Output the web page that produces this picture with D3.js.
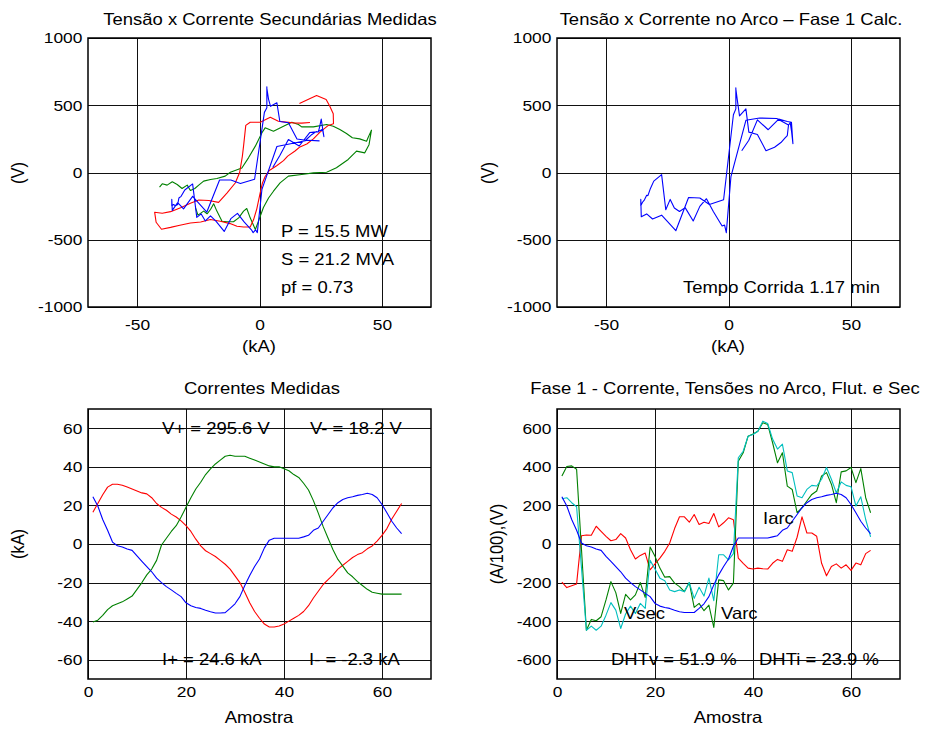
<!DOCTYPE html>
<html><head><meta charset="utf-8">
<script src="https://cdn.jsdelivr.net/npm/d3@7"></script>
<style>
body{margin:0;background:#fff}
svg{display:block}
text{font-family:"Liberation Sans",Arial,Helvetica,sans-serif;fill:#000}
</style>
</head><body>
<svg id="chart" width="926" height="731"></svg>
<script>
// ---------------- DATA ----------------
const amostra = [1,2,3,4,5,6,7,8,9,10,11,12,13,14,15,16,17,18,19,20,21,22,23,24,25,26,27,28,29,30,31,32,
  33,34,35,36,37,38,39,40,41,42,43,44,45,46,47,48,49,50,51,52,53,54,55,56,57,58,59,60,61,62,63,64];

// Correntes medidas (kA)
const iFase1 = [24.5,19.7,12.7,7.1,1.0,-0.9,-1.6,-2.6,-3.3,-6.2,-9,-11.7,-14.4,-17.7,-20,-22.1,-23.8,-25.6,-27.3,-30.5,
  -32,-32.9,-33.4,-34.3,-35.1,-35.8,-35.8,-35.6,-33.4,-31,-27.3,-21.5,-16.3,-11.7,-7.8,-2.0,2.0,3.0,3.0,3.0,
  3.0,3.0,3.0,3.7,4.5,7.1,8.3,11.8,15.3,18.8,21.4,23.1,24,24.5,25.2,25.7,26.3,25.7,24,20.5,16.2,11.8,8.3,5.4];
const iFase2 = [16.5,21,25.5,29.5,31,31,30.5,29.5,28.5,27.5,26.5,26,24,21,19,17.5,15.5,14,12,9.5,
  6.5,2.5,-1,-3.5,-5,-6.5,-8.5,-10.5,-13,-16.5,-20,-25,-30.5,-35,-38.5,-41.5,-43,-43,-42.5,-41.5,
  -40,-38.5,-37,-35,-32,-28,-24.5,-21,-18.5,-16,-13,-11,-9,-7,-5.5,-4.5,-2.5,-1,1.5,4.5,8,13,17,21];
const iFase3 = [-40.5,-39.5,-37,-34,-32,-31,-30,-28.5,-27,-23.5,-20,-16,-13,-8.5,-0.5,3,6.5,9.5,14,19,
  24,28.5,32,36,39,41.5,43.5,45.5,46,45.5,45.5,45.5,44.5,43.5,42.5,41.5,40.5,40,40,39,
  38,36,34.5,31.5,28,22.5,16,9,3,-3,-8,-11.5,-15,-17,-19.5,-21.5,-23.5,-25,-25.5,-26,-26,-26,-26,-26];

// Fase 1 (A/100 e V)
const iArc = [245,197,127,71,5,-9,-16,-26,-33,-64,-90,-117,-144,-177,-200,-221,-238,-256,-273,-308,
  -322,-329,-334,-343,-351,-355,-355,-355,-334,-310,-273,-212,-160,-117,-78,-12,31,31,31,31,
  31,31,31,37,43,71,83,118,153,188,214,231,240,245,252,257,263,257,240,205,162,118,83,54];
const vFlut = [-198,-226,-216,-207,43,47,45,92,66,40,17,23,54,31,-30,-78,-59,-47,-134,-103,
  -73,-38,5,80,141,141,113,153,101,113,106,158,89,110,136,126,-73,-100,-125,-130,
  -125,-128,-130,-100,-80,-90,-30,-38,35,141,57,57,40,-100,-165,-117,-103,-125,-108,-137,-99,-108,-50,-33];
const vArc = [353,402,405,388,-30,-447,-391,-398,-377,-290,-195,-252,-360,-261,-290,-264,-200,-277,-16,-64,
  -125,-172,-169,-203,-221,-247,-200,-329,-308,-346,-317,-433,-186,-190,-238,-203,429,473,559,570,
  585,629,620,525,421,473,300,283,162,188,223,257,275,353,370,310,214,374,379,397,318,391,240,162];
const vSec = [235,240,214,193,-125,-447,-426,-447,-426,-369,-304,-343,-438,-363,-322,-360,-308,-334,-85,-130,
  -177,-190,-238,-247,-238,-247,-200,-282,-224,-270,-177,-294,-56,-56,-82,-50,447,481,559,568,
  585,637,625,544,492,518,379,370,249,240,283,304,301,336,397,336,266,322,304,297,197,245,127,37];

// Tensao x corrente secundarias, fases 2 e 3 (kA, V)
const tlI2 = [16.3,20,23.3,27.2,28.7,30.1,30.2,28.1,24.7,22,19.3,16.5,14.5,11.5,9.8,7,4,2.3,1.2,0.3,-1.1,-2.4,-3.8,
  -6.5,-9.2,-12,-16,-20,-24,-28.2,-32.5,-36.3,-40,-42.2,-42.8,-39.7,-36.3,-32.2,-28.2,-24.8,-20.7,-16.7,-13.3,
  -9.9,-8.1,-7,-6.5,-5.6,-3.8,0.3,4.4,7.7,13.8,17.2,20.6];
const tlV2 = [513,545,572,543,493,437,362,350,300,250,212,190,160,122,88,50,15,-30,-78,-150,-270,-350,-405,
  -405,-400,-380,-362,-350,-368,-375,-392,-408,-422,-370,-295,-303,-291,-262,-228,-205,-208,-222,-153,
  -78,0,120,198,350,374,374,410,381,369,367,372];
const tlI3 = [-40.8,-39.7,-37.7,-35.6,-33.6,-31.6,-29.5,-28.2,-26.4,-24.8,-22.8,-20,-17.4,-14,-11.9,-7.2,-4.5,-1.7,1,2.3,
  5.7,9.8,13.2,15.9,17.2,22,27.4,30.1,32.8,35.5,37.9,40.9,43.7,44.3,45.7,44.7,42.97,39.6,36.2,31.4,27.4,22,17.2,
  11.8,8.4,5.7,3.7,1.6,-0.4,-1.7,-3.8,-5.2,-6.5,-8.5,-10.6,-13.3,-15.3,-17.4,-18.7,-20,-21.4,-22.8,-25.1,-26.1];
const tlV3 = [-109,-84,-94,-69,-89,-119,-94,-134,-119,-94,-64,-52,-45,-27,2,34,109,196,295,332,
  307,344,374,357,339,339,357,344,319,290,258,250,233,258,315,207,146,159,97,35,2,-3,-15,
  -27,-77,-139,-190,-260,-362,-424,-337,-268,-287,-337,-366,-366,-362,-287,-233,-275,-307,-287,-317,-263];

// Tick values
const ticksKA = [-50,0,50];
const ticksV = [-1000,-500,0,500,1000];
const ticksAmostra = [0,20,40,60];
const ticksIkA = [-60,-40,-20,0,20,40,60];
const ticksF1 = [-600,-400,-200,0,200,400,600];

// ---------------- DRAWING ----------------
const SX = 1.12;            // horizontal stretch of the reference's text
const svg = d3.select("#chart");
const FONT = '"Liberation Sans",Arial,Helvetica,sans-serif';
const fmt = d => String(d);

function txt(x, y, s, size, anchor, rot) {
  return svg.append("text")
    .attr("transform", `translate(${x},${y}) scale(${SX},1)` + (rot ? " rotate(-90)" : ""))
    .attr("font-size", size).attr("text-anchor", anchor || "start").text(s);
}

function panel(c) {
  const x = d3.scaleLinear().domain(c.xd).range([c.left, c.right]);
  const y = d3.scaleLinear().domain(c.yd).range([c.bottom, c.top]);
  const w = c.right - c.left, h = c.bottom - c.top;
  // grid
  svg.append("g").attr("transform", `translate(0,${c.bottom})`)
    .call(d3.axisBottom(x).tickValues(c.xt).tickSize(-h).tickFormat(""))
    .call(g => g.select(".domain").remove())
    .call(g => g.selectAll("line").attr("stroke", "#111").attr("shape-rendering", "crispEdges"));
  svg.append("g").attr("transform", `translate(${c.left},0)`)
    .call(d3.axisLeft(y).tickValues(c.yt).tickSize(-w).tickFormat(""))
    .call(g => g.select(".domain").remove())
    .call(g => g.selectAll("line").attr("stroke", "#111").attr("shape-rendering", "crispEdges"));
  // clip
  const cid = "clip" + c.id;
  svg.append("clipPath").attr("id", cid).append("rect")
    .attr("x", c.left).attr("y", c.top).attr("width", w).attr("height", h);
  const lines = svg.append("g").attr("clip-path", `url(#${cid})`);
  // tick labels
  svg.append("g").attr("transform", `translate(0,${c.bottom})`)
    .call(d3.axisBottom(x).tickValues(c.xt).tickSize(0).tickPadding(c.xpad).tickFormat(fmt))
    .call(g => g.select(".domain").remove())
    .call(g => g.attr("font-size", 15.5).attr("font-family", FONT))
    .call(g => g.selectAll("text").attr("fill", "#000").attr("transform", `scale(${SX},1)`));
  svg.append("g").attr("transform", `translate(${c.left},0)`)
    .call(d3.axisLeft(y).tickValues(c.yt).tickSize(0).tickPadding(5).tickFormat(fmt))
    .call(g => g.select(".domain").remove())
    .call(g => g.attr("font-size", 15.5).attr("font-family", FONT))
    .call(g => g.selectAll("text").attr("fill", "#000").attr("transform", `scale(${SX},1)`));
  return {x, y, lines, c};
}

function box(p) {
  const c = p.c;
  svg.append("rect").attr("x", c.left).attr("y", c.top)
    .attr("width", c.right - c.left).attr("height", c.bottom - c.top)
    .attr("fill", "none").attr("stroke", "#000").attr("stroke-width", 1.5);
}

function path(p, xs, ys, color) {
  const idx = d3.range(xs.length);
  p.lines.append("path").datum(idx)
    .attr("fill", "none").attr("stroke", color).attr("stroke-width", 1.1)
    .attr("stroke-linejoin", "round")
    .attr("d", d3.line().x(i => p.x(xs[i])).y(i => p.y(ys[i])));
}

// --- Top-left
const tl = panel({id: "tl", left: 88, right: 431, top: 38, bottom: 307,
  xd: [-70, 70], yd: [-1000, 1000], xt: ticksKA, yt: ticksV, xpad: 12});
path(tl, tlI3, tlV3, "#008000");
path(tl, tlI2, tlV2, "#ff0000");
path(tl, iFase1, vSec, "#0000ff");
box(tl);

// --- Top-right
const tr = panel({id: "tr", left: 557, right: 900, top: 38, bottom: 307,
  xd: [-70, 70], yd: [-1000, 1000], xt: ticksKA, yt: ticksV, xpad: 12});
path(tr, iFase1, vArc, "#0000ff");
box(tr);

// --- Bottom-left
const bl = panel({id: "bl", left: 88, right: 431, top: 409, bottom: 679,
  xd: [0, 70], yd: [-70, 70], xt: ticksAmostra, yt: ticksIkA, xpad: 7});
path(bl, amostra, iFase2, "#ff0000");
path(bl, amostra, iFase3, "#008000");
path(bl, amostra, iFase1, "#0000ff");
box(bl);

// --- Bottom-right
const br = panel({id: "br", left: 557, right: 900, top: 409, bottom: 679,
  xd: [0, 70], yd: [-700, 700], xt: ticksAmostra, yt: ticksF1, xpad: 7});
path(br, amostra, vFlut, "#ff0000");
path(br, amostra, vArc, "#008000");
path(br, amostra, vSec, "#00bfbf");
path(br, amostra, iArc, "#0000ff");
box(br);

// --- Titles
txt(270, 25, "Tensão x Corrente Secundárias Medidas", 16.5, "middle");
txt(731, 25, "Tensão x Corrente no Arco – Fase 1 Calc.", 16.5, "middle");
txt(262, 394, "Correntes Medidas", 16.5, "middle");
txt(725, 394, "Fase 1 - Corrente, Tensões no Arco, Flut. e Sec", 16.5, "middle");

// --- Axis labels
txt(259, 352, "(kA)", 16.5, "middle");
txt(728, 352, "(kA)", 16.5, "middle");
txt(259, 723, "Amostra", 16.5, "middle");
txt(728, 723, "Amostra", 16.5, "middle");
txt(24, 173, "(V)", 16.5, "middle", true);
txt(494, 173, "(V)", 16.5, "middle", true);
txt(24, 544, "(kA)", 16.5, "middle", true);
txt(503, 544, "(A/100),(V)", 16.5, "middle", true);

// --- Annotations
txt(281, 237, "P = 15.5 MW", 16.5);
txt(281, 265, "S = 21.2 MVA", 16.5);
txt(281, 293, "pf = 0.73", 16.5);
txt(683, 293, "Tempo Corrida 1.17 min", 16.5);
txt(162, 434, "V+ = 295.6 V", 16.5);
txt(310, 434, "V- = 18.2 V", 16.5);
txt(162, 665, "I+ = 24.6 kA", 16.5);
txt(309, 665, "I- = -2.3 kA", 16.5);
txt(611, 665, "DHTv = 51.9 %", 16.5);
txt(759, 665, "DHTi = 23.9 %", 16.5);
txt(763, 524, "Iarc", 16.5);
txt(624, 619, "Vsec", 16.5);
txt(721, 619, "Varc", 16.5);
</script>
</body></html>
